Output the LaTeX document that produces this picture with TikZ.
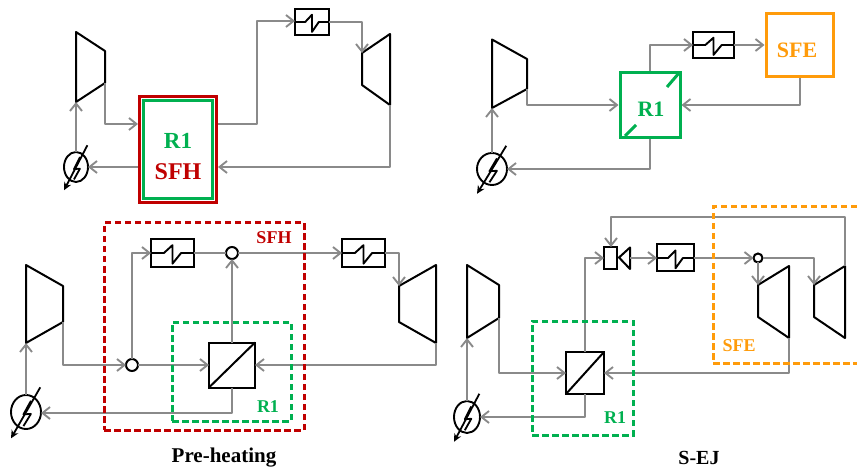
\documentclass[tikz,border=0pt]{standalone}
\usepackage{fontspec}
\setmainfont{Liberation Serif}
\usetikzlibrary{arrows.meta,shapes.geometric,calc}
\definecolor{cgreen}{HTML}{00B050}
\definecolor{cred}{HTML}{C00000}
\definecolor{corange}{HTML}{FF9B0A}
\definecolor{cgray}{HTML}{8A8A8A}
\tikzset{
  flow/.style={draw=cgray,line width=2pt,-{Straight Barb[length=7.5pt,width=12pt,line width=1.9pt]},line join=round},
  plainflow/.style={draw=cgray,line width=2pt,line join=round},
  machine/.style={draw=black,line width=2pt,line join=round},
  box/.style={draw=black,fill=white,line width=2pt,inner sep=0pt,outer sep=0pt,rectangle},
  joint/.style={draw=black,fill=white,line width=2pt,inner sep=0pt,outer sep=0pt,circle},
  gencase/.style={draw=black,fill=white,line width=1.9pt,inner sep=0pt,outer sep=0pt,ellipse},
  dashgreen/.style={draw=cgreen,line width=3pt,dash pattern=on 6.5pt off 3.5pt},
  dashred/.style={draw=cred,line width=3pt,dash pattern=on 6.5pt off 3.5pt},
  dashorange/.style={draw=corange,line width=3pt,dash pattern=on 6.5pt off 3.5pt},
  lab/.style={font=\bfseries\fontsize{#1}{#1}\selectfont,inner sep=0pt},
}
% name, cx, cy, w, h
\newcommand{\hxsym}[5]{%
  \node[box,minimum width=#4pt,minimum height=#5pt] (#1) at (#2,#3) {};
  \draw[machine,line width=1.9pt] (#1.west) -- ++(0.3*#4,0) -- ++(0.2*#4,-0.28*#5) -- ++(0,0.66*#5) -- ++(0.2*#4,-0.38*#5) -- (#1.east);
}
% name, cx, cy, rx, ry
\newcommand{\gensym}[5]{%
  \node[gencase,minimum width=2*#4 pt,minimum height=2*#5 pt] (#1) at (#2,#3) {};
  \draw[machine,line width=1.8pt] ($(#2,#3)+(0.33*#4,-0.66*#5)$) -- ++(-0.5*#4,0.8*#5) -- ++(0.5*#4,-0.03*#5) -- ++(-0.5*#4,0.72*#5);
  \draw[draw=black,line width=1.8pt,-{Stealth[length=8pt,width=7.5pt]}] ($(#2,#3)+(0.95*#4,-1.45*#5)$) -- ($(#2,#3)+(-1.0*#4,1.55*#5)$);
}
\begin{document}
\begin{tikzpicture}[x=1pt,y=-1pt]
\useasboundingbox (0,0) rectangle (857,473);

% ---------- top left ----------
\node[draw=cred,line width=3pt,rectangle,inner sep=0pt,minimum width=77pt,minimum height=106pt,fill=white] (sfhA) at (178,149.5) {};
\node[draw=cgreen,line width=3pt,rectangle,inner sep=0pt,minimum width=69pt,minimum height=98pt] (rA) at (178,149.5) {};
\node[lab=23,text=cgreen] (rAt) at (178,141) {R1};
\node[lab=24,text=cred] (sAt) at (178,172) {SFH};
\hxsym{hxA}{312}{22}{34}{26}
\gensym{genA}{76}{167}{12}{15}
\coordinate (cAa) at (76,32); \coordinate (cAb) at (105,51); \coordinate (cAc) at (105,83); \coordinate (cAd) at (76,102);
\coordinate (tAa) at (390,34); \coordinate (tAb) at (362,53); \coordinate (tAc) at (362,85); \coordinate (tAd) at (390,105);
\draw[machine] (cAa) -- (cAb) -- (cAc) -- (cAd) -- cycle;
\draw[machine] (tAa) -- (tAb) -- (tAc) -- (tAd) -- cycle;
\draw[flow] (cAc) -- (105,124) -- (sfhA.west |- 0,124);
\draw[flow] (sfhA.east |- 0,124) -- (257,124) -- (257,21) -- (hxA.west |- 0,21);
\draw[flow] (hxA.east) -- (tAb |- hxA.east) -- (tAb);
\draw[flow] (tAd) -- (390,167) -- (sfhA.east |- 0,167);
\draw[flow] (sfhA.west |- genA.east) -- (genA.east);
\draw[flow] (genA.north) -- (cAd);

% ---------- top right ----------
\node[draw=cgreen,line width=3pt,rectangle,inner sep=0pt,minimum width=60pt,minimum height=65pt] (rB) at (650,105) {};
\draw[cgreen,line width=3pt] (667,87) -- (679,73);
\draw[cgreen,line width=3pt] (625,136) -- (636,125);
\node[lab=22,text=cgreen] (rBt) at (651,109) {R1};
\node[draw=corange,line width=3pt,rectangle,inner sep=0pt,minimum width=67pt,minimum height=63pt] (sfeB) at (799.5,45.5) {};
\node[lab=22,text=corange] (sBt) at (797,50) {SFE};
\hxsym{hxB}{713.5}{45}{41}{26}
\gensym{genB}{492}{169}{15}{16}
\coordinate (cBa) at (492,39.5); \coordinate (cBb) at (527,59); \coordinate (cBc) at (527,89); \coordinate (cBd) at (492,108);
\draw[machine] (cBa) -- (cBb) -- (cBc) -- (cBd) -- cycle;
\draw[flow] (cBc) -- (527,105) -- (rB.west);
\draw[flow] (rB.north) -- (rB.north |- hxB.west) -- (hxB.west);
\draw[flow] (hxB.east) -- (sfeB.west |- hxB.east);
\draw[flow] (sfeB.south) -- (sfeB.south |- rB.east) -- (rB.east);
\draw[flow] (rB.south) -- (rB.south |- genB.east) -- (genB.east);
\draw[flow] (genB.north) -- (cBd);

% ---------- bottom left ----------
\hxsym{hxC}{172.5}{253}{43}{28}
\hxsym{hxD}{363.5}{253}{43}{28}
\node[box,minimum width=46pt,minimum height=45pt] (sqC) at (232,365) {};
\draw[machine] (sqC.south west) -- (sqC.north east);
\node[joint,minimum size=12pt] (jC) at (232,253) {};
\node[joint,minimum size=12pt] (mC) at (132,365) {};
\gensym{genC}{26}{412}{15}{17}
\coordinate (cCa) at (26,265); \coordinate (cCb) at (63,286); \coordinate (cCc) at (63,322); \coordinate (cCd) at (26,343);
\coordinate (tCa) at (436,265); \coordinate (tCb) at (399,286); \coordinate (tCc) at (399,322); \coordinate (tCd) at (436,343);
\draw[machine] (cCa) -- (cCb) -- (cCc) -- (cCd) -- cycle;
\draw[machine] (tCa) -- (tCb) -- (tCc) -- (tCd) -- cycle;
\draw[flow] (cCc) -- (63,365) -- (mC.west);
\draw[flow] (mC.east) -- (sqC.west);
\draw[flow] (mC.north) -- (mC.north |- hxC.west) -- (hxC.west);
\draw[plainflow] (hxC.east) -- (jC.west);
\draw[flow] (jC.east) -- (hxD.west);
\draw[flow] (hxD.east) -- (tCb |- hxD.east) -- (tCb);
\draw[flow] (sqC.north) -- (jC.south);
\draw[flow] (tCd) -- (436,365) -- (sqC.east);
\draw[flow] (sqC.south) -- (232,413) -- (genC.east |- 0,413);
\draw[flow] (genC.north) -- (cCd);
\node[dashred,rectangle,inner sep=0pt,minimum width=200pt,minimum height=207pt] (fC) at (204,326.5) {};
\node[dashgreen,rectangle,inner sep=0pt,minimum width=119pt,minimum height=99pt] (gC) at (231.5,371.5) {};
\node[lab=18,text=cred] (sCt) at (274,238) {SFH};
\node[lab=18,text=cgreen] (rCt) at (268,407) {R1};
\node[lab=21] (tC) at (224,458) {Pre-heating};

% ---------- bottom right ----------
\node[box,minimum width=38pt,minimum height=42pt] (sqD) at (585,373) {};
\draw[machine] (sqD.south west) -- (sqD.north east);
\node[box,minimum width=13pt,minimum height=22pt] (ejD) at (610.5,258) {};
\coordinate (ejTip) at (619,257.5); \coordinate (ejTa) at (630,247.5); \coordinate (ejTb) at (630,269);
\draw[machine] (ejTip) -- (ejTa) -- (ejTb) -- cycle;
\coordinate (ejOut) at (630,258);
\hxsym{hxE}{675.5}{258}{37}{27}
\node[joint,minimum width=9pt,minimum height=9pt] (jD) at (758,258) {};
\gensym{genD}{467}{417}{13}{16}
\coordinate (cDa) at (467,265); \coordinate (cDb) at (499,285); \coordinate (cDc) at (499,318); \coordinate (cDd) at (467,338);
\coordinate (tDa) at (789,266); \coordinate (tDb) at (758,285); \coordinate (tDc) at (758,317); \coordinate (tDd) at (789,338);
\coordinate (tEa) at (845,266); \coordinate (tEb) at (814,285); \coordinate (tEc) at (814,317); \coordinate (tEd) at (845,338);
\draw[machine] (cDa) -- (cDb) -- (cDc) -- (cDd) -- cycle;
\draw[machine] (tDa) -- (tDb) -- (tDc) -- (tDd) -- cycle;
\draw[machine] (tEa) -- (tEb) -- (tEc) -- (tEd) -- cycle;
\draw[flow] (cDc) -- (499,373) -- (sqD.west);
\draw[flow] (sqD.north) -- (sqD.north |- ejD.west) -- (ejD.west);
\draw[flow] (ejOut) -- (hxE.west);
\draw[flow] (hxE.east) -- (jD.west);
\draw[flow] (jD.south) -- (tDb);
\draw[flow] (jD.east) -- (814,258) -- (tEb);
\draw[flow] (tEa) -- (845,217) -- (611,217) -- (611,247);
\draw[flow] (tDd) -- (789,373) -- (sqD.east);
\draw[flow] (sqD.south) -- (585,417) -- (genD.east);
\draw[flow] (genD.north) -- (cDd);
\coordinate (oa) at (857,207); \coordinate (ob) at (713,207); \coordinate (oc) at (713,363); \coordinate (od) at (857,363);
\draw[dashorange] (oa) -- (ob) -- (oc) -- (od);
\node[dashgreen,rectangle,inner sep=0pt,minimum width=101pt,minimum height=114pt] (gD) at (582.5,378) {};
\node[lab=18,text=corange] (sDt) at (739,346) {SFE};
\node[lab=18,text=cgreen] (rDt) at (615,418) {R1};
\node[lab=20] (tD) at (699,458) {S-EJ};
\end{tikzpicture}
\end{document}
